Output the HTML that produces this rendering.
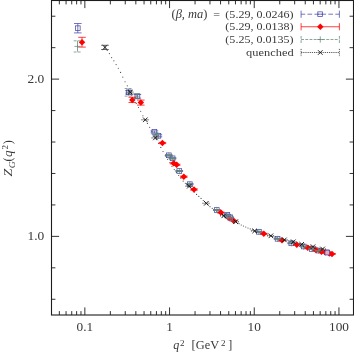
<!DOCTYPE html>
<html><head><meta charset="utf-8"><title>plot</title>
<style>html,body{margin:0;padding:0;background:#fff;overflow:hidden}svg{display:block;will-change:transform}</style>
</head><body>
<svg width="354" height="354" viewBox="0 0 354 354">
<rect width="354" height="354" fill="#fff"/>
<path d="M59.35 315.0v-3.9M59.35 0.5v3.9M66.06 315.0v-3.9M66.06 0.5v3.9M71.73 315.0v-3.9M71.73 0.5v3.9M76.64 315.0v-3.9M76.64 0.5v3.9M80.97 315.0v-3.9M80.97 0.5v3.9M84.85 315.0v-7.6M84.85 0.5v7.6M110.35 315.0v-3.9M110.35 0.5v3.9M125.26 315.0v-3.9M125.26 0.5v3.9M135.84 315.0v-3.9M135.84 0.5v3.9M144.05 315.0v-3.9M144.05 0.5v3.9M150.76 315.0v-3.9M150.76 0.5v3.9M156.43 315.0v-3.9M156.43 0.5v3.9M161.34 315.0v-3.9M161.34 0.5v3.9M165.67 315.0v-3.9M165.67 0.5v3.9M169.55 315.0v-7.6M169.55 0.5v7.6M195.05 315.0v-3.9M195.05 0.5v3.9M209.96 315.0v-3.9M209.96 0.5v3.9M220.54 315.0v-3.9M220.54 0.5v3.9M228.75 315.0v-3.9M228.75 0.5v3.9M235.46 315.0v-3.9M235.46 0.5v3.9M241.13 315.0v-3.9M241.13 0.5v3.9M246.04 315.0v-3.9M246.04 0.5v3.9M250.37 315.0v-3.9M250.37 0.5v3.9M254.25 315.0v-7.6M254.25 0.5v7.6M279.75 315.0v-3.9M279.75 0.5v3.9M294.66 315.0v-3.9M294.66 0.5v3.9M305.24 315.0v-3.9M305.24 0.5v3.9M313.45 315.0v-3.9M313.45 0.5v3.9M320.16 315.0v-3.9M320.16 0.5v3.9M325.83 315.0v-3.9M325.83 0.5v3.9M330.74 315.0v-3.9M330.74 0.5v3.9M335.07 315.0v-3.9M335.07 0.5v3.9M338.95 315.0v-7.6M338.95 0.5v7.6M51.5 299.27h3.9M353.5 299.27h-3.9M51.5 267.82h3.9M353.5 267.82h-3.9M51.5 236.38h7.6M353.5 236.38h-7.6M51.5 204.93h3.9M353.5 204.93h-3.9M51.5 173.48h3.9M353.5 173.48h-3.9M51.5 142.02h3.9M353.5 142.02h-3.9M51.5 110.57h3.9M353.5 110.57h-3.9M51.5 79.12h7.6M353.5 79.12h-7.6M51.5 47.67h3.9M353.5 47.67h-3.9M51.5 16.23h3.9M353.5 16.23h-3.9" stroke="#1c1c1c" stroke-width="0.9" fill="none"/>
<rect x="51.5" y="0.5" width="302.0" height="314.5" fill="none" stroke="#1c1c1c" stroke-width="1.1"/>
<text transform="translate(44.2,83.125) scale(1.05,1)" font-family="Liberation Serif, serif" font-size="12.8" fill="#383838" text-anchor="end" >2.0</text>
<text transform="translate(44.2,240.375) scale(1.05,1)" font-family="Liberation Serif, serif" font-size="12.8" fill="#383838" text-anchor="end" >1.0</text>
<text transform="translate(84.85000000000001,331.0) scale(1.04,1)" font-family="Liberation Serif, serif" font-size="12.8" fill="#383838" text-anchor="middle" >0.1</text>
<text transform="translate(169.55,331.0) scale(1.04,1)" font-family="Liberation Serif, serif" font-size="12.8" fill="#383838" text-anchor="middle" >1</text>
<text transform="translate(254.25,331.0) scale(1.04,1)" font-family="Liberation Serif, serif" font-size="12.8" fill="#383838" text-anchor="middle" >10</text>
<text transform="translate(338.95000000000005,331.0) scale(1.04,1)" font-family="Liberation Serif, serif" font-size="12.8" fill="#383838" text-anchor="middle" >100</text>
<text x="173.3" y="349.0" font-family="Liberation Serif, serif" font-size="12" fill="#383838" font-style="italic">q</text>
<text x="179.9" y="345.6" font-family="Liberation Serif, serif" font-size="9" fill="#383838">2</text>
<text x="191.6" y="349.0" font-family="Liberation Serif, serif" font-size="12" fill="#383838" textLength="27.5" lengthAdjust="spacingAndGlyphs">[GeV</text>
<text x="220.9" y="345.6" font-family="Liberation Serif, serif" font-size="9" fill="#383838">2</text>
<text x="228.2" y="349.0" font-family="Liberation Serif, serif" font-size="12" fill="#383838">]</text>
<g transform="translate(12.4,176.5) rotate(-90)">
<text x="0" y="0" font-family="Liberation Serif, serif" font-size="12" fill="#383838" font-style="italic" textLength="7.8" lengthAdjust="spacingAndGlyphs">Z</text>
<text x="8.3" y="2.2" font-family="Liberation Serif, serif" font-size="9" fill="#383838" font-style="italic" textLength="7.0" lengthAdjust="spacingAndGlyphs">G</text>
<text x="15.1" y="0" font-family="Liberation Serif, serif" font-size="13" fill="#383838" textLength="4.0" lengthAdjust="spacingAndGlyphs">(</text>
<text x="19.6" y="0" font-family="Liberation Serif, serif" font-size="12" fill="#383838" font-style="italic" textLength="6.6" lengthAdjust="spacingAndGlyphs">q</text>
<text x="27.0" y="-4.7" font-family="Liberation Serif, serif" font-size="9" fill="#383838">2</text>
<text x="32.2" y="0" font-family="Liberation Serif, serif" font-size="13" fill="#383838" textLength="4.0" lengthAdjust="spacingAndGlyphs">)</text>
</g>
<text x="171.5" y="17.8" font-family="Liberation Serif, serif" font-size="12" fill="#383838" textLength="36" lengthAdjust="spacingAndGlyphs">(<tspan font-style="italic">β, ma</tspan>)</text>
<text transform="translate(213.2,17.8) scale(1.09,1)" font-family="Liberation Serif, serif" font-size="11" fill="#383838" text-anchor="start" >=</text>
<text transform="translate(293.5,17.8) scale(1.095,1)" font-family="Liberation Serif, serif" font-size="11" fill="#383838" text-anchor="end" >(5.29, 0.0246)</text>
<text transform="translate(293.5,30.35) scale(1.095,1)" font-family="Liberation Serif, serif" font-size="11" fill="#383838" text-anchor="end" >(5.29, 0.0138)</text>
<text transform="translate(293.5,43.1) scale(1.095,1)" font-family="Liberation Serif, serif" font-size="11" fill="#383838" text-anchor="end" >(5.25, 0.0135)</text>
<text transform="translate(293.6,56.1) scale(1.0,1)" font-family="Liberation Serif, serif" font-size="11" fill="#383838" text-anchor="end" textLength="47.5" lengthAdjust="spacingAndGlyphs">quenched</text>
<path d="M301.1 14.2H339.4" stroke="#4848aa" stroke-width="0.75" fill="none" stroke-dasharray="4.65 2.3" stroke-dashoffset="0.55"/>
<path d="M301.1 10.6v7.2M339.4 10.6v7.2" stroke="#4848aa" stroke-width="0.75" fill="none" />
<path d="M317.5 14.2H322.8" stroke="#4848aa" stroke-width="0.75" fill="none"/>
<rect x="317.80" y="11.85" width="4.7" height="4.7" fill="none" stroke="#4848aa" stroke-width="0.75"/>
<path d="M301.1 26.75H339.4" stroke="#ff0000" stroke-width="0.75" fill="none" />
<path d="M301.1 23.15v7.2M339.4 23.15v7.2" stroke="#ff0000" stroke-width="0.75" fill="none" />
<path d="M320.30 23.50L323.55 26.75L320.30 30.00L317.05 26.75Z" fill="#ff0000"/>
<path d="M301.1 39.5H339.4" stroke="#668877" stroke-width="0.75" fill="none" stroke-dasharray="2.9 1.3"/>
<path d="M301.1 35.9v7.2M339.4 35.9v7.2" stroke="#668877" stroke-width="0.75" fill="none" stroke-dasharray="2.9 1.3"/>
<path d="M317.20 39.50h6.2M320.30 36.40v6.2" stroke="#668877" stroke-width="0.75" fill="none"/>
<path d="M301.1 52.5H339.4" stroke="#222" stroke-width="0.75" fill="none" stroke-dasharray="1.2 0.95"/>
<path d="M301.1 48.9v7.2M339.4 48.9v7.2" stroke="#222" stroke-width="0.75" fill="none" stroke-dasharray="1.2 0.95"/>
<path d="M318.00 50.20l4.6 4.6M318.00 54.80l4.6 -4.6" stroke="#111" stroke-width="0.9" fill="none"/>
<path d="M107.17 50.46h0.01M109.40 53.55h0.01M111.64 57.59h0.01M113.87 60.83h0.01M116.11 64.62h0.01M118.34 68.27h0.01M120.58 72.40h0.01M122.81 77.05h0.01M125.05 81.74h0.01M127.28 85.85h0.01M129.52 90.79h0.01M131.75 95.16h0.01M133.99 99.27h0.01M136.22 103.39h0.01M138.46 107.46h0.01M140.69 111.29h0.01M142.93 115.71h0.01M145.16 119.56h0.01M147.40 123.39h0.01M149.63 127.28h0.01M151.87 131.40h0.01M154.10 135.51h0.01M156.34 139.55h0.01M158.57 143.49h0.01M160.81 147.44h0.01M163.04 151.54h0.01M165.28 155.69h0.01M167.51 159.22h0.01M169.75 162.76h0.01M171.98 166.30h0.01M174.22 169.61h0.01M176.45 172.53h0.01M178.69 175.45h0.01M180.92 178.37h0.01M183.16 181.09h0.01M185.39 183.21h0.01M187.63 184.92h0.01M189.86 186.85h0.01M192.10 189.44h0.01M194.33 192.03h0.01M196.57 194.42h0.01M198.80 196.39h0.01M201.04 198.38h0.01M203.27 200.48h0.01M205.51 202.56h0.01M207.74 204.61h0.01M209.98 206.66h0.01M212.21 208.34h0.01M214.45 209.78h0.01M216.68 211.22h0.01M218.92 212.66h0.01M221.15 214.09h0.01M223.39 215.53h0.01M225.62 216.70h0.01M227.86 217.81h0.01M230.09 218.92h0.01M232.33 220.03h0.01M234.56 221.13h0.01M236.80 222.35h0.01M239.03 223.68h0.01M241.27 225.00h0.01M243.50 226.03h0.01M245.74 227.00h0.01M247.97 227.97h0.01M250.21 228.94h0.01M252.44 229.92h0.01M254.68 230.89h0.01M256.91 231.57h0.01M259.15 232.24h0.01M261.38 232.92h0.01M263.62 233.60h0.01M265.85 234.27h0.01M268.09 234.95h0.01M270.32 235.62h0.01M272.56 236.30h0.01M274.79 236.98h0.01M277.03 237.66h0.01M279.26 238.34h0.01M281.50 239.02h0.01M283.73 239.70h0.01M285.97 240.23h0.01M288.20 240.71h0.01M290.44 241.19h0.01M292.67 241.67h0.01M294.91 242.28h0.01M297.14 242.94h0.01M299.38 243.61h0.01M301.61 244.27h0.01M303.85 244.76h0.01M306.08 245.23h0.01M308.32 245.70h0.01M310.55 246.18h0.01M312.79 246.65h0.01M315.02 247.18h0.01M317.26 247.72h0.01M319.49 248.25h0.01M321.73 248.79h0.01" stroke="#444" stroke-width="1.15" stroke-linecap="round" fill="none"/>
<path d="M77.80 23.50V32.90M74.00 23.50h7.6M74.00 32.90h7.6" stroke="#4848aa" stroke-width="0.75" fill="none" />
<rect x="75.45" y="25.85" width="4.7" height="4.7" fill="none" stroke="#4848aa" stroke-width="0.75"/>
<path d="M128.90 90.60V94.00M125.10 90.60h7.6M125.10 94.00h7.6" stroke="#4848aa" stroke-width="0.75" fill="none" />
<rect x="126.55" y="89.95" width="4.7" height="4.7" fill="none" stroke="#4848aa" stroke-width="0.75"/>
<path d="M137.40 94.50V98.10M133.60 94.50h7.6M133.60 98.10h7.6" stroke="#4848aa" stroke-width="0.75" fill="none" />
<rect x="135.05" y="93.95" width="4.7" height="4.7" fill="none" stroke="#4848aa" stroke-width="0.75"/>
<path d="M154.40 130.90V132.90M150.60 130.90h7.6M150.60 132.90h7.6" stroke="#4848aa" stroke-width="0.75" fill="none" />
<rect x="152.05" y="129.55" width="4.7" height="4.7" fill="none" stroke="#4848aa" stroke-width="0.75"/>
<path d="M158.40 134.80V136.80M154.60 134.80h7.6M154.60 136.80h7.6" stroke="#4848aa" stroke-width="0.75" fill="none" />
<rect x="156.05" y="133.45" width="4.7" height="4.7" fill="none" stroke="#4848aa" stroke-width="0.75"/>
<path d="M168.85 154.80V155.80M165.05 154.80h7.6M165.05 155.80h7.6" stroke="#4848aa" stroke-width="0.75" fill="none" />
<rect x="166.50" y="152.95" width="4.7" height="4.7" fill="none" stroke="#4848aa" stroke-width="0.75"/>
<path d="M172.60 157.80V158.80M168.80 157.80h7.6M168.80 158.80h7.6" stroke="#4848aa" stroke-width="0.75" fill="none" />
<rect x="170.25" y="155.95" width="4.7" height="4.7" fill="none" stroke="#4848aa" stroke-width="0.75"/>
<path d="M179.30 170.50V171.50M175.50 170.50h7.6M175.50 171.50h7.6" stroke="#4848aa" stroke-width="0.75" fill="none" />
<rect x="176.95" y="168.65" width="4.7" height="4.7" fill="none" stroke="#4848aa" stroke-width="0.75"/>
<path d="M189.80 183.70V184.70M186.00 183.70h7.6M186.00 184.70h7.6" stroke="#4848aa" stroke-width="0.75" fill="none" />
<rect x="187.45" y="181.85" width="4.7" height="4.7" fill="none" stroke="#4848aa" stroke-width="0.75"/>
<path d="M216.80 209.60V210.40M213.00 209.60h7.6M213.00 210.40h7.6" stroke="#4848aa" stroke-width="0.75" fill="none" />
<rect x="214.45" y="207.65" width="4.7" height="4.7" fill="none" stroke="#4848aa" stroke-width="0.75"/>
<path d="M227.30 214.40V215.20M223.50 214.40h7.6M223.50 215.20h7.6" stroke="#4848aa" stroke-width="0.75" fill="none" />
<rect x="224.95" y="212.45" width="4.7" height="4.7" fill="none" stroke="#4848aa" stroke-width="0.75"/>
<path d="M230.30 216.90V217.70M226.50 216.90h7.6M226.50 217.70h7.6" stroke="#4848aa" stroke-width="0.75" fill="none" />
<rect x="227.95" y="214.95" width="4.7" height="4.7" fill="none" stroke="#4848aa" stroke-width="0.75"/>
<path d="M258.90 231.40V232.20M255.10 231.40h7.6M255.10 232.20h7.6" stroke="#4848aa" stroke-width="0.75" fill="none" />
<rect x="256.55" y="229.45" width="4.7" height="4.7" fill="none" stroke="#4848aa" stroke-width="0.75"/>
<path d="M277.60 238.40V239.20M273.80 238.40h7.6M273.80 239.20h7.6" stroke="#4848aa" stroke-width="0.75" fill="none" />
<rect x="275.25" y="236.45" width="4.7" height="4.7" fill="none" stroke="#4848aa" stroke-width="0.75"/>
<path d="M291.30 242.90V243.70M287.50 242.90h7.6M287.50 243.70h7.6" stroke="#4848aa" stroke-width="0.75" fill="none" />
<rect x="288.95" y="240.95" width="4.7" height="4.7" fill="none" stroke="#4848aa" stroke-width="0.75"/>
<path d="M303.80 246.10V246.90M300.00 246.10h7.6M300.00 246.90h7.6" stroke="#4848aa" stroke-width="0.75" fill="none" />
<rect x="301.45" y="244.15" width="4.7" height="4.7" fill="none" stroke="#4848aa" stroke-width="0.75"/>
<path d="M311.90 248.60V249.40M308.10 248.60h7.6M308.10 249.40h7.6" stroke="#4848aa" stroke-width="0.75" fill="none" />
<rect x="309.55" y="246.65" width="4.7" height="4.7" fill="none" stroke="#4848aa" stroke-width="0.75"/>
<path d="M318.60 250.20V251.00M314.80 250.20h7.6M314.80 251.00h7.6" stroke="#4848aa" stroke-width="0.75" fill="none" />
<rect x="316.25" y="248.25" width="4.7" height="4.7" fill="none" stroke="#4848aa" stroke-width="0.75"/>
<path d="M326.60 251.90V252.70M322.80 251.90h7.6M322.80 252.70h7.6" stroke="#4848aa" stroke-width="0.75" fill="none" />
<rect x="324.25" y="249.95" width="4.7" height="4.7" fill="none" stroke="#4848aa" stroke-width="0.75"/>
<path d="M82.00 37.30V47.10M78.20 37.30h7.6M78.20 47.10h7.6" stroke="#ff0000" stroke-width="0.75" fill="none" />
<path d="M82.00 38.95L85.25 42.20L82.00 45.45L78.75 42.20Z" fill="#ff0000"/>
<path d="M132.30 97.30V102.50M128.50 97.30h7.6M128.50 102.50h7.6" stroke="#ff0000" stroke-width="0.75" fill="none" />
<path d="M132.30 96.65L135.55 99.90L132.30 103.15L129.05 99.90Z" fill="#ff0000"/>
<path d="M140.80 100.10V105.10M137.00 100.10h7.6M137.00 105.10h7.6" stroke="#ff0000" stroke-width="0.75" fill="none" />
<path d="M140.80 99.35L144.05 102.60L140.80 105.85L137.55 102.60Z" fill="#ff0000"/>
<path d="M162.40 142.40V143.60M158.60 142.40h7.6M158.60 143.60h7.6" stroke="#ff0000" stroke-width="0.75" fill="none" />
<path d="M162.40 139.75L165.65 143.00L162.40 146.25L159.15 143.00Z" fill="#ff0000"/>
<path d="M173.70 162.70V163.90M169.90 162.70h7.6M169.90 163.90h7.6" stroke="#ff0000" stroke-width="0.75" fill="none" />
<path d="M173.70 160.05L176.95 163.30L173.70 166.55L170.45 163.30Z" fill="#ff0000"/>
<path d="M176.60 164.20V165.40M172.80 164.20h7.6M172.80 165.40h7.6" stroke="#ff0000" stroke-width="0.75" fill="none" />
<path d="M176.60 161.55L179.85 164.80L176.60 168.05L173.35 164.80Z" fill="#ff0000"/>
<path d="M183.80 176.10V177.30M180.00 176.10h7.6M180.00 177.30h7.6" stroke="#ff0000" stroke-width="0.75" fill="none" />
<path d="M183.80 173.45L187.05 176.70L183.80 179.95L180.55 176.70Z" fill="#ff0000"/>
<path d="M194.00 188.90V190.10M190.20 188.90h7.6M190.20 190.10h7.6" stroke="#ff0000" stroke-width="0.75" fill="none" />
<path d="M194.00 186.25L197.25 189.50L194.00 192.75L190.75 189.50Z" fill="#ff0000"/>
<path d="M220.90 212.20V213.00M217.10 212.20h7.6M217.10 213.00h7.6" stroke="#ff0000" stroke-width="0.75" fill="none" />
<path d="M220.90 209.35L224.15 212.60L220.90 215.85L217.65 212.60Z" fill="#ff0000"/>
<path d="M229.30 217.90V218.70M225.50 217.90h7.6M225.50 218.70h7.6" stroke="#ff0000" stroke-width="0.75" fill="none" />
<path d="M229.30 215.05L232.55 218.30L229.30 221.55L226.05 218.30Z" fill="#ff0000"/>
<path d="M233.70 220.30V221.10M229.90 220.30h7.6M229.90 221.10h7.6" stroke="#ff0000" stroke-width="0.75" fill="none" />
<path d="M233.70 217.45L236.95 220.70L233.70 223.95L230.45 220.70Z" fill="#ff0000"/>
<path d="M263.80 233.40V234.20M260.00 233.40h7.6M260.00 234.20h7.6" stroke="#ff0000" stroke-width="0.75" fill="none" />
<path d="M263.80 230.55L267.05 233.80L263.80 237.05L260.55 233.80Z" fill="#ff0000"/>
<path d="M282.00 239.90V240.70M278.20 239.90h7.6M278.20 240.70h7.6" stroke="#ff0000" stroke-width="0.75" fill="none" />
<path d="M282.00 237.05L285.25 240.30L282.00 243.55L278.75 240.30Z" fill="#ff0000"/>
<path d="M296.80 244.40V245.20M293.00 244.40h7.6M293.00 245.20h7.6" stroke="#ff0000" stroke-width="0.75" fill="none" />
<path d="M296.80 241.55L300.05 244.80L296.80 248.05L293.55 244.80Z" fill="#ff0000"/>
<path d="M307.80 247.40V248.20M304.00 247.40h7.6M304.00 248.20h7.6" stroke="#ff0000" stroke-width="0.75" fill="none" />
<path d="M307.80 244.55L311.05 247.80L307.80 251.05L304.55 247.80Z" fill="#ff0000"/>
<path d="M315.80 249.70V250.50M312.00 249.70h7.6M312.00 250.50h7.6" stroke="#ff0000" stroke-width="0.75" fill="none" />
<path d="M315.80 246.85L319.05 250.10L315.80 253.35L312.55 250.10Z" fill="#ff0000"/>
<path d="M321.50 251.40V252.20M317.70 251.40h7.6M317.70 252.20h7.6" stroke="#ff0000" stroke-width="0.75" fill="none" />
<path d="M321.50 248.55L324.75 251.80L321.50 255.05L318.25 251.80Z" fill="#ff0000"/>
<path d="M325.40 251.90V252.70M321.60 251.90h7.6M321.60 252.70h7.6" stroke="#ff0000" stroke-width="0.75" fill="none" />
<path d="M325.40 249.05L328.65 252.30L325.40 255.55L322.15 252.30Z" fill="#ff0000"/>
<path d="M329.40 253.10V253.90M325.60 253.10h7.6M325.60 253.90h7.6" stroke="#ff0000" stroke-width="0.75" fill="none" />
<path d="M329.40 250.25L332.65 253.50L329.40 256.75L326.15 253.50Z" fill="#ff0000"/>
<path d="M332.00 253.50V254.30M328.20 253.50h7.6M328.20 254.30h7.6" stroke="#ff0000" stroke-width="0.75" fill="none" />
<path d="M332.00 250.65L335.25 253.90L332.00 257.15L328.75 253.90Z" fill="#ff0000"/>
<rect x="324.95" y="250.25" width="4.7" height="4.7" fill="#eef" fill-opacity="0.7" stroke="#4848aa" stroke-width="0.75"/>
<rect x="224.55" y="213.05" width="4.7" height="4.7" fill="none" stroke="#7777bb" stroke-width="0.75"/>
<rect x="227.85" y="215.55" width="4.7" height="4.7" fill="none" stroke="#7777bb" stroke-width="0.75"/>
<path d="M77.50 40.80V52.00M73.70 40.80h7.6M73.70 52.00h7.6" stroke="#668877" stroke-width="0.75" fill="none" stroke-dasharray="2.9 1.1"/>
<path d="M74.40 46.40h6.2M77.50 43.30v6.2" stroke="#668877" stroke-width="0.75" fill="none"/>
<path d="M128.50 88.50V96.10M124.70 88.50h7.6M124.70 96.10h7.6" stroke="#668877" stroke-width="0.75" fill="none" stroke-dasharray="2.9 1.1"/>
<path d="M125.40 92.30h6.2M128.50 89.20v6.2" stroke="#668877" stroke-width="0.75" fill="none"/>
<path d="M137.10 93.70V98.70M133.30 93.70h7.6M133.30 98.70h7.6" stroke="#668877" stroke-width="0.75" fill="none" stroke-dasharray="2.9 1.1"/>
<path d="M134.00 96.20h6.2M137.10 93.10v6.2" stroke="#668877" stroke-width="0.75" fill="none"/>
<path d="M156.40 133.30V136.30M152.60 133.30h7.6M152.60 136.30h7.6" stroke="#668877" stroke-width="0.75" fill="none" stroke-dasharray="2.9 1.1"/>
<path d="M153.30 134.80h6.2M156.40 131.70v6.2" stroke="#668877" stroke-width="0.75" fill="none"/>
<path d="M168.90 154.60V156.20M165.10 154.60h7.6M165.10 156.20h7.6" stroke="#668877" stroke-width="0.75" fill="none" stroke-dasharray="2.9 1.1"/>
<path d="M165.80 155.40h6.2M168.90 152.30v6.2" stroke="#668877" stroke-width="0.75" fill="none"/>
<path d="M172.60 157.60V159.20M168.80 157.60h7.6M168.80 159.20h7.6" stroke="#668877" stroke-width="0.75" fill="none" stroke-dasharray="2.9 1.1"/>
<path d="M169.50 158.40h6.2M172.60 155.30v6.2" stroke="#668877" stroke-width="0.75" fill="none"/>
<path d="M179.40 170.50V171.70M175.60 170.50h7.6M175.60 171.70h7.6" stroke="#668877" stroke-width="0.75" fill="none" stroke-dasharray="2.9 1.1"/>
<path d="M176.30 171.10h6.2M179.40 168.00v6.2" stroke="#668877" stroke-width="0.75" fill="none"/>
<path d="M189.80 183.80V185.00M186.00 183.80h7.6M186.00 185.00h7.6" stroke="#668877" stroke-width="0.75" fill="none" stroke-dasharray="2.9 1.1"/>
<path d="M186.70 184.40h6.2M189.80 181.30v6.2" stroke="#668877" stroke-width="0.75" fill="none"/>
<path d="M216.90 209.70V210.30M213.10 209.70h7.6M213.10 210.30h7.6" stroke="#668877" stroke-width="0.75" fill="none" stroke-dasharray="2.9 1.1"/>
<path d="M213.80 210.00h6.2M216.90 206.90v6.2" stroke="#668877" stroke-width="0.75" fill="none"/>
<path d="M226.90 215.20V215.80M223.10 215.20h7.6M223.10 215.80h7.6" stroke="#668877" stroke-width="0.75" fill="none" stroke-dasharray="2.9 1.1"/>
<path d="M223.80 215.50h6.2M226.90 212.40v6.2" stroke="#668877" stroke-width="0.75" fill="none"/>
<path d="M230.20 217.60V218.20M226.40 217.60h7.6M226.40 218.20h7.6" stroke="#668877" stroke-width="0.75" fill="none" stroke-dasharray="2.9 1.1"/>
<path d="M227.10 217.90h6.2M230.20 214.80v6.2" stroke="#668877" stroke-width="0.75" fill="none"/>
<path d="M258.90 231.60V232.20M255.10 231.60h7.6M255.10 232.20h7.6" stroke="#668877" stroke-width="0.75" fill="none" stroke-dasharray="2.9 1.1"/>
<path d="M255.80 231.90h6.2M258.90 228.80v6.2" stroke="#668877" stroke-width="0.75" fill="none"/>
<path d="M277.70 238.60V239.20M273.90 238.60h7.6M273.90 239.20h7.6" stroke="#668877" stroke-width="0.75" fill="none" stroke-dasharray="2.9 1.1"/>
<path d="M274.60 238.90h6.2M277.70 235.80v6.2" stroke="#668877" stroke-width="0.75" fill="none"/>
<path d="M291.60 243.00V243.60M287.80 243.00h7.6M287.80 243.60h7.6" stroke="#668877" stroke-width="0.75" fill="none" stroke-dasharray="2.9 1.1"/>
<path d="M288.50 243.30h6.2M291.60 240.20v6.2" stroke="#668877" stroke-width="0.75" fill="none"/>
<path d="M303.60 246.30V246.90M299.80 246.30h7.6M299.80 246.90h7.6" stroke="#668877" stroke-width="0.75" fill="none" stroke-dasharray="2.9 1.1"/>
<path d="M300.50 246.60h6.2M303.60 243.50v6.2" stroke="#668877" stroke-width="0.75" fill="none"/>
<path d="M312.00 248.70V249.30M308.20 248.70h7.6M308.20 249.30h7.6" stroke="#668877" stroke-width="0.75" fill="none" stroke-dasharray="2.9 1.1"/>
<path d="M308.90 249.00h6.2M312.00 245.90v6.2" stroke="#668877" stroke-width="0.75" fill="none"/>
<path d="M318.70 250.40V251.00M314.90 250.40h7.6M314.90 251.00h7.6" stroke="#668877" stroke-width="0.75" fill="none" stroke-dasharray="2.9 1.1"/>
<path d="M315.60 250.70h6.2M318.70 247.60v6.2" stroke="#668877" stroke-width="0.75" fill="none"/>
<path d="M104.95 45.30V49.50M101.15 45.30h7.6M101.15 49.50h7.6" stroke="#3a3a3a" stroke-width="0.75" fill="none" />
<path d="M102.65 45.10l4.6 4.6M102.65 49.70l4.6 -4.6" stroke="#111" stroke-width="0.9" fill="none"/>
<path d="M130.20 91.80V92.80M126.40 91.80h7.6M126.40 92.80h7.6" stroke="#555" stroke-width="0.75" fill="none" stroke-dasharray="1 1"/>
<path d="M127.90 90.00l4.6 4.6M127.90 94.60l4.6 -4.6" stroke="#111" stroke-width="0.9" fill="none"/>
<path d="M145.30 119.50V120.10M141.50 119.50h7.6M141.50 120.10h7.6" stroke="#555" stroke-width="0.75" fill="none" stroke-dasharray="1 1"/>
<path d="M143.00 117.50l4.6 4.6M143.00 122.10l4.6 -4.6" stroke="#111" stroke-width="0.9" fill="none"/>
<path d="M155.40 137.60V138.20M151.60 137.60h7.6M151.60 138.20h7.6" stroke="#555" stroke-width="0.75" fill="none" stroke-dasharray="1 1"/>
<path d="M153.10 135.60l4.6 4.6M153.10 140.20l4.6 -4.6" stroke="#111" stroke-width="0.9" fill="none"/>
<path d="M189.30 185.90V186.50M185.50 185.90h7.6M185.50 186.50h7.6" stroke="#555" stroke-width="0.75" fill="none" stroke-dasharray="1 1"/>
<path d="M187.00 183.90l4.6 4.6M187.00 188.50l4.6 -4.6" stroke="#111" stroke-width="0.9" fill="none"/>
<path d="M206.30 203.00V203.60M202.50 203.00h7.6M202.50 203.60h7.6" stroke="#555" stroke-width="0.75" fill="none" stroke-dasharray="1 1"/>
<path d="M204.00 201.00l4.6 4.6M204.00 205.60l4.6 -4.6" stroke="#111" stroke-width="0.9" fill="none"/>
<path d="M223.80 215.50V216.10M220.00 215.50h7.6M220.00 216.10h7.6" stroke="#555" stroke-width="0.75" fill="none" stroke-dasharray="1 1"/>
<path d="M221.50 213.50l4.6 4.6M221.50 218.10l4.6 -4.6" stroke="#111" stroke-width="0.9" fill="none"/>
<path d="M235.70 221.40V222.00M231.90 221.40h7.6M231.90 222.00h7.6" stroke="#555" stroke-width="0.75" fill="none" stroke-dasharray="1 1"/>
<path d="M233.40 219.40l4.6 4.6M233.40 224.00l4.6 -4.6" stroke="#111" stroke-width="0.9" fill="none"/>
<path d="M254.70 230.60V231.20M250.90 230.60h7.6M250.90 231.20h7.6" stroke="#555" stroke-width="0.75" fill="none" stroke-dasharray="1 1"/>
<path d="M252.40 228.60l4.6 4.6M252.40 233.20l4.6 -4.6" stroke="#111" stroke-width="0.9" fill="none"/>
<path d="M270.90 235.50V236.10M267.10 235.50h7.6M267.10 236.10h7.6" stroke="#555" stroke-width="0.75" fill="none" stroke-dasharray="1 1"/>
<path d="M268.60 233.50l4.6 4.6M268.60 238.10l4.6 -4.6" stroke="#111" stroke-width="0.9" fill="none"/>
<path d="M284.40 239.60V240.20M280.60 239.60h7.6M280.60 240.20h7.6" stroke="#555" stroke-width="0.75" fill="none" stroke-dasharray="1 1"/>
<path d="M282.10 237.60l4.6 4.6M282.10 242.20l4.6 -4.6" stroke="#111" stroke-width="0.9" fill="none"/>
<path d="M293.30 241.50V242.10M289.50 241.50h7.6M289.50 242.10h7.6" stroke="#555" stroke-width="0.75" fill="none" stroke-dasharray="1 1"/>
<path d="M291.00 239.50l4.6 4.6M291.00 244.10l4.6 -4.6" stroke="#111" stroke-width="0.9" fill="none"/>
<path d="M301.70 244.00V244.60M297.90 244.00h7.6M297.90 244.60h7.6" stroke="#555" stroke-width="0.75" fill="none" stroke-dasharray="1 1"/>
<path d="M299.40 242.00l4.6 4.6M299.40 246.60l4.6 -4.6" stroke="#111" stroke-width="0.9" fill="none"/>
<path d="M313.00 246.40V247.00M309.20 246.40h7.6M309.20 247.00h7.6" stroke="#555" stroke-width="0.75" fill="none" stroke-dasharray="1 1"/>
<path d="M310.70 244.40l4.6 4.6M310.70 249.00l4.6 -4.6" stroke="#111" stroke-width="0.9" fill="none"/>
<path d="M322.60 248.70V249.30M318.80 248.70h7.6M318.80 249.30h7.6" stroke="#555" stroke-width="0.75" fill="none" stroke-dasharray="1 1"/>
<path d="M320.30 246.70l4.6 4.6M320.30 251.30l4.6 -4.6" stroke="#111" stroke-width="0.9" fill="none"/>
</svg>
</body></html>
